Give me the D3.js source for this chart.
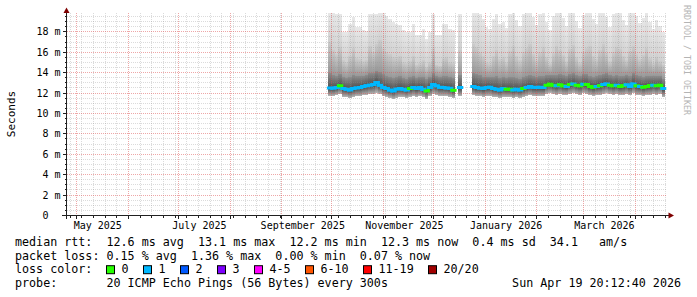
<!DOCTYPE html>
<html>
<head>
<meta charset="utf-8">
<script src="https://cdn.jsdelivr.net/npm/d3@7"></script>
<style>
  html, body { margin: 0; padding: 0; background: #fff; }
  svg { display: block; }
  text { font-family: "DejaVu Sans Mono", monospace; white-space: pre; }
</style>
</head>
<body>
<svg id="chart" width="697" height="297"></svg>
<script>
// time window: smokeping "last 360 days" ending at the stamp
const END = new Date(Date.UTC(2026, 3, 19, 20, 12, 40));
const START = d3.utcDay.offset(END, -360);

// one sample every 2 days from Sep 29 2025 (null = no data)
const SAMPLE_START = new Date(Date.UTC(2025, 8, 29));
const SAMPLE_DAYS = 2;

// median rtt, ms
const MEDIAN = [
  12.51, 12.48, 12.54, 12.71, 12.44, 12.38, 12.31, 12.44, 12.51, 12.54,
  12.64, 12.71, 12.77, 12.84, 13.04, 12.77, 12.54, 12.44, 12.31, 12.21,
  12.38, 12.44, 12.38, 12.31, 12.44, 12.54, 12.44, 12.54, 12.38, 12.21,
  12.54, 12.84, 12.71, 12.57, 12.54, 12.51, 12.48, 12.28, null, 12.54,
  null, null, null, 12.64, 12.54, 12.51, 12.44, 12.54, 12.57, 12.44,
  12.38, 12.31, 12.44, 12.38, 12.38, 12.31, 12.38, 12.31, 12.44, 12.54,
  12.64, 12.57, 12.54, 12.57, 12.54, 12.77, 12.87, 12.77, 12.71, 12.81,
  12.71, 12.64, 12.84, 12.90, 12.77, 12.71, 12.87, 12.84, 12.64, 12.57,
  12.64, 12.71, 12.84, 12.90, 12.77, 12.71, 12.77, 12.64, 12.71, 12.81,
  12.64, 12.90, 12.71, 12.64, 12.57, 12.64, 12.71, 12.77, 12.71, 12.77,
  12.44
];

// lost pings (of 20) per sample
const LOSS = [
  1, 1, 1, 0, 1, 1, 1, 1, 1, 1,
  1, 1, 1, 1, 1, 1, 1, 1, 1, 1,
  1, 1, 1, 1, 0, 1, 1, 1, 1, 0,
  1, 1, 1, 1, 1, 1, 1, 0, null, 1,
  null, null, null, 1, 1, 1, 1, 1, 1, 1,
  1, 1, 1, 0, 0, 1, 1, 1, 0, 1,
  1, 1, 1, 1, 1, 0, 0, 0, 1, 0,
  0, 1, 0, 1, 0, 0, 1, 0, 0, 0,
  1, 0, 1, 1, 0, 0, 1, 0, 0, 1,
  1, 1, 0, 1, 0, 0, 0, 1, 0, 0,
  1
];

// smoke: lowest ping, upper quartile, 90th pct, highest ping (ms)
const SMOKE_MIN = [
  11.7, 11.7, 11.8, 11.9, 11.6, 11.6, 11.5, 11.6, 11.7, 11.7,
  11.8, 11.8, 11.9, 11.9, 12.0, 11.9, 11.7, 11.6, 11.5, 11.4,
  11.5, 11.6, 11.6, 11.5, 11.6, 11.7, 11.6, 11.7, 11.6, 11.4,
  11.7, 11.9, 11.8, 11.7, 11.7, 11.7, 11.6, 11.5, null, 11.7,
  null, null, null, 11.8, 11.7, 11.7, 11.6, 11.7, 11.7, 11.6,
  11.6, 11.5, 11.6, 11.6, 11.6, 11.5, 11.6, 11.5, 11.6, 11.7,
  11.8, 11.7, 11.7, 11.7, 11.7, 11.9, 12.0, 11.9, 11.8, 11.9,
  11.8, 11.8, 11.9, 12.0, 11.9, 11.8, 12.0, 11.9, 11.8, 11.7,
  11.8, 11.8, 11.9, 12.0, 11.9, 11.8, 11.9, 11.8, 11.8, 11.9,
  11.8, 12.0, 11.8, 11.8, 11.7, 11.8, 11.8, 11.9, 11.8, 11.9,
  11.6
];
const SMOKE_Q3 = [
  14.0, 13.8, 13.7, 13.9, 13.6, 13.5, 13.6, 13.8, 13.7, 13.7,
  13.7, 13.8, 14.0, 14.0, 14.2, 14.1, 13.9, 13.7, 13.6, 13.5,
  13.6, 13.7, 13.5, 13.4, 13.6, 13.7, 13.5, 13.6, 13.6, 13.4,
  13.6, 14.0, 13.7, 13.6, 13.7, 13.7, 13.6, 13.5, null, 13.8,
  null, null, null, 14.0, 13.9, 13.8, 13.6, 13.6, 13.6, 13.6,
  13.7, 13.5, 13.6, 13.5, 13.6, 13.6, 13.5, 13.4, 13.6, 13.7,
  13.8, 13.7, 13.6, 13.7, 13.7, 13.8, 13.8, 13.8, 13.8, 13.9,
  13.8, 13.7, 13.9, 14.0, 13.8, 13.7, 13.9, 13.9, 13.7, 13.6,
  13.7, 13.8, 13.9, 14.0, 13.8, 13.7, 13.8, 13.7, 13.7, 13.8,
  13.7, 14.0, 13.8, 13.7, 13.6, 13.7, 13.7, 13.7, 13.7, 13.7,
  13.4
];
const SMOKE_Q9 = [
  17.0, 16.2, 15.8, 16.5, 15.2, 15.0, 15.6, 16.4, 15.4, 15.3,
  15.1, 15.2, 16.6, 16.0, 16.8, 17.2, 16.4, 16.0, 15.8, 15.5,
  15.4, 15.6, 15.0, 14.9, 15.1, 15.6, 14.8, 14.9, 15.2, 14.6,
  15.0, 16.5, 14.8, 14.7, 15.4, 15.5, 15.0, 14.9, null, 16.2,
  null, null, null, 16.8, 16.5, 16.0, 15.6, 15.0, 14.9, 15.6,
  16.2, 15.3, 15.5, 15.0, 16.1, 16.6, 15.6, 15.2, 16.0, 16.4,
  16.8, 15.8, 15.2, 16.0, 16.5, 15.5, 14.9, 15.9, 16.6, 16.2,
  15.7, 15.1, 16.3, 16.7, 15.5, 15.0, 16.0, 16.4, 16.6, 15.6,
  15.3, 16.2, 16.8, 15.9, 15.1, 16.0, 16.5, 16.3, 15.6, 15.2,
  16.1, 16.6, 15.8, 15.3, 15.7, 16.4, 15.4, 14.9, 15.5, 15.1,
  14.8
];
const SMOKE_MAX = [
  20.0, 20.0, 19.8, 19.8, 18.0, 18.0, 18.8, 19.5, 18.5, 18.5,
  18.2, 18.1, 19.8, 19.8, 19.8, 20.0, 20.0, 19.6, 19.3, 19.0,
  18.8, 18.7, 18.2, 18.0, 18.0, 18.8, 17.7, 17.7, 18.3, 17.3,
  18.0, 19.8, 17.7, 17.7, 18.8, 18.8, 18.3, 18.2, null, 19.8,
  null, null, null, 20.0, 20.0, 19.8, 19.3, 18.5, 18.3, 19.3,
  19.8, 18.8, 19.0, 18.4, 19.8, 20.0, 19.2, 18.6, 19.8, 20.0,
  20.0, 19.5, 18.7, 19.8, 20.0, 19.0, 18.2, 19.6, 20.0, 20.0,
  19.4, 18.6, 19.9, 20.0, 19.1, 18.4, 19.7, 20.0, 20.0, 19.3,
  18.8, 19.9, 20.0, 19.5, 18.5, 19.8, 20.0, 20.0, 19.2, 18.7,
  19.9, 20.0, 19.6, 18.9, 19.4, 20.0, 19.0, 18.3, 19.2, 18.6,
  18.0
];

const Y_MAX = 19.85;
const Y_MAJOR = d3.range(0, 19, 2);
const Y_MINOR = d3.range(0.5, 20, 0.5).filter(v => v % 2 !== 0);

const LOSS_LABELS = ["0", "1", "2", "3", "4-5", "6-10", "11-19", "20/20"];
const LOSS_UPPER = [0, 1, 2, 3, 5, 10, 19, 20];
const LOSS_COLORS = ["#26ff00", "#00b8ff", "#0059ff", "#7e00ff", "#ff00ff", "#ff5500", "#ff0000", "#a10000"];

const LEGEND_LINES = [
  "median rtt:  12.6 ms avg  13.1 ms max  12.2 ms min  12.3 ms now  0.4 ms sd  34.1   am/s",
  "packet loss: 0.15 % avg  1.36 % max  0.00 % min  0.07 % now",
  "loss color:",
  "probe:       20 ICMP Echo Pings (56 Bytes) every 300s"
];
const STAMP = "Sun Apr 19 20:12:40 2026";

// layout
const PLOT = { left: 66.5, right: 666.5, top: 13, bottom: 215.5 };
const CHAR_W = 7.0;
const LEGEND_X = 15;
const LEGEND_Y0 = 246;
const LEGEND_DY = 13.6;

const svg = d3.select("#chart");
svg.append("rect").attr("width", 697).attr("height", 297).attr("fill", "#fff");

const x = d3.scaleUtc().domain([START, END]).range([PLOT.left, PLOT.right]);
const y = d3.scaleLinear().domain([0, Y_MAX]).range([PLOT.bottom, PLOT.top]);
const px = v => Math.floor(v) + 0.5;

const samples = MEDIAN.map((m, i) => {
  const t0 = d3.utcDay.offset(SAMPLE_START, i * SAMPLE_DAYS);
  const t1 = d3.min([d3.utcDay.offset(t0, SAMPLE_DAYS), END]);
  return { t0, t1, median: m, loss: LOSS[i], lo: SMOKE_MIN[i], q3: SMOKE_Q3[i], q9: SMOKE_Q9[i], hi: SMOKE_MAX[i] };
}).filter(d => d.t0 < END);

const defs = svg.append("defs");
defs.append("clipPath").attr("id", "plotclip")
  .append("rect")
  .attr("x", PLOT.left).attr("y", PLOT.top)
  .attr("width", PLOT.right - PLOT.left).attr("height", PLOT.bottom - PLOT.top);

// smoke bands, darkest near the median
const BANDS = [
  { id: "b-top", top: d => d.hi, bot: d => d.q9, c: ["#e8e8e8", "#d0d0d0"] },
  { id: "b-mid", top: d => d.q9, bot: d => d.q3, c: ["#cbcbcb", "#999999"] },
  { id: "b-up", top: d => d.q3, bot: d => d.median, c: ["#8e8e8e", "#505050"] },
  { id: "b-low", top: d => d.median, bot: d => d.lo, c: ["#404040", "#b8b8b8"] }
];
BANDS.forEach(b => {
  const g = defs.append("linearGradient").attr("id", b.id)
    .attr("x1", 0).attr("y1", 0).attr("x2", 0).attr("y2", 1);
  g.append("stop").attr("offset", 0).attr("stop-color", b.c[0]);
  g.append("stop").attr("offset", 1).attr("stop-color", b.c[1]);
});

const smoke = svg.append("g").attr("clip-path", "url(#plotclip)").attr("shape-rendering", "crispEdges");
const withData = samples.filter(d => d.median != null);
BANDS.forEach(b => {
  smoke.append("g").selectAll("rect")
    .data(withData)
    .join("rect")
    .attr("x", d => x(d.t0))
    .attr("width", d => x(d.t1) - x(d.t0))
    .attr("y", d => y(b.top(d)))
    .attr("height", d => Math.max(0, y(b.bot(d)) - y(b.top(d))))
    .attr("fill", `url(#${b.id})`);
});

// grid (drawn over the smoke, like rrdtool); dashes start on whole pixels
const grid = svg.append("g").attr("fill", "none").attr("stroke-dasharray", "1,1");
const MINOR_C = "rgba(143,143,143,0.32)";
const MAJOR_C = "rgba(222,80,80,0.5)";
const GX0 = Math.ceil(PLOT.left), GX1 = Math.floor(PLOT.right);
const GY0 = Math.ceil(PLOT.top), GY1 = Math.floor(PLOT.bottom);

const weeks = d3.utcSunday.range(START, END).filter(d => d.getUTCDate() !== 1);
const months = d3.utcMonth.range(START, END);
const vline = (sel, data, color) => sel.append("g").selectAll("line").data(data).join("line")
  .attr("x1", d => px(x(d))).attr("x2", d => px(x(d)))
  .attr("y1", GY0).attr("y2", GY1)
  .attr("stroke", color);
const hline = (sel, data, color) => sel.append("g").selectAll("line").data(data).join("line")
  .attr("x1", GX0).attr("x2", GX1)
  .attr("y1", d => px(y(d))).attr("y2", d => px(y(d)))
  .attr("stroke", color);
vline(grid, weeks, MINOR_C);
hline(grid, Y_MINOR, MINOR_C);
vline(grid, months, MAJOR_C);
hline(grid, Y_MAJOR.filter(v => v > 0), MAJOR_C);

// median line coloured by loss
const lossColor = n => LOSS_COLORS[LOSS_UPPER.findIndex(u => n <= u)];
const line = d3.line();
const medG = svg.append("g").attr("clip-path", "url(#plotclip)");
samples.forEach((d, i) => {
  if (d.median == null) return;
  const pts = [[x(d.t0), y(d.median)], [x(d.t1), y(d.median)]];
  const next = samples[i + 1];
  if (next && next.median != null) pts.push([x(d.t1), y(next.median)]);
  medG.append("path")
    .attr("d", line(pts))
    .attr("fill", "none")
    .attr("stroke", lossColor(d.loss))
    .attr("stroke-width", 3)
    .attr("stroke-linecap", "square");
});

// axes
const axes = svg.append("g").attr("shape-rendering", "crispEdges");
axes.append("line").attr("x1", 62).attr("x2", 669).attr("y1", px(y(0))).attr("y2", px(y(0))).attr("stroke", "#202020");
axes.append("line").attr("x1", px(PLOT.left)).attr("x2", px(PLOT.left)).attr("y1", 219).attr("y2", 11).attr("stroke", "#202020");
axes.selectAll(".yt").data(Y_MAJOR.concat(Y_MINOR)).join("line")
  .attr("x1", d => (d % 2 === 0 ? 63 : 64.5)).attr("x2", px(PLOT.left))
  .attr("y1", d => px(y(d))).attr("y2", d => px(y(d)))
  .attr("stroke", "#202020");
axes.selectAll(".xt").data(weeks.concat(months)).join("line")
  .attr("x1", d => px(x(d))).attr("x2", d => px(x(d)))
  .attr("y1", px(y(0))).attr("y2", d => px(y(0)) + (d.getUTCDate() === 1 ? 3 : 2))
  .attr("stroke", "#202020");
svg.append("path").attr("d", "M66.5,7.5L63.5,13L69.5,13Z").attr("fill", "#7f0000");
svg.append("path").attr("d", "M674,215.5L668.5,212.5L668.5,218.5Z").attr("fill", "#7f0000");

// tick labels
svg.append("g").selectAll("text").data(Y_MAJOR).join("text")
  .attr("x", 60.5).attr("y", d => px(y(d)) + 3.5)
  .attr("text-anchor", "end").attr("font-size", 10).attr("fill", "#000")
  .attr("xml:space", "preserve")
  .text(d => (d === 0 ? "0  " : `${d} m`));

const labelMonths = d3.utcMonth.every(2).range(START, END);
const fmtMonth = d3.utcFormat("%B %Y");
svg.append("g").selectAll("text").data(labelMonths).join("text")
  .attr("x", d => x(d) + 21).attr("y", 229)
  .attr("text-anchor", "middle").attr("font-size", 10).attr("fill", "#000")
  .text(fmtMonth);

svg.append("text")
  .attr("transform", "translate(15,114) rotate(-90)")
  .attr("text-anchor", "middle").attr("font-size", 11).attr("fill", "#000")
  .text("Seconds");

svg.append("text")
  .attr("transform", "translate(684,5) rotate(90)")
  .attr("font-size", 8.3).attr("fill", "#b4b4b4")
  .text("RRDTOOL / TOBI OETIKER");

// legend
const leg = svg.append("g").attr("font-size", 11.7).attr("fill", "#000");
LEGEND_LINES.forEach((t, i) => {
  leg.append("text").attr("xml:space", "preserve")
    .attr("x", LEGEND_X).attr("y", LEGEND_Y0 + i * LEGEND_DY).text(t);
});
leg.append("text").attr("x", 681).attr("y", LEGEND_Y0 + 3 * LEGEND_DY)
  .attr("text-anchor", "end").text(STAMP);

let cursor = LEGEND_X + 13 * CHAR_W - 0.5;
const boxY = LEGEND_Y0 + 2 * LEGEND_DY - 8;
LOSS_LABELS.forEach((lab, i) => {
  leg.append("rect")
    .attr("x", Math.round(cursor) + 0.5).attr("y", boxY + 0.5)
    .attr("width", 8).attr("height", 8)
    .attr("fill", LOSS_COLORS[i]).attr("stroke", "#000").attr("stroke-width", 1);
  leg.append("text").attr("x", cursor + 16).attr("y", LEGEND_Y0 + 2 * LEGEND_DY).text(lab);
  cursor += 16 + (lab.length + 2) * CHAR_W;
});
</script>
</body>
</html>
